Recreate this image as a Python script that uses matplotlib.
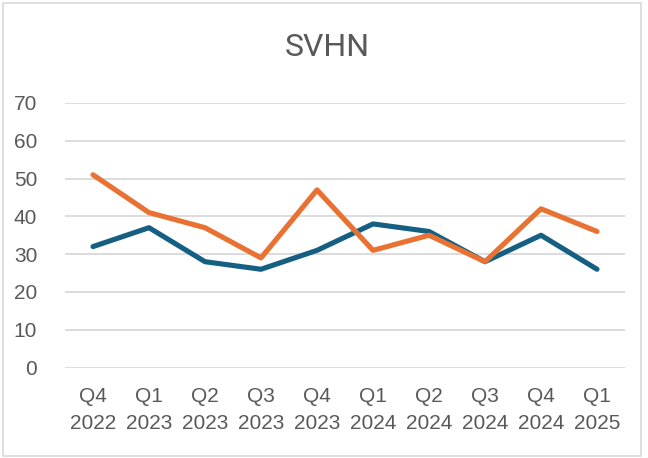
import matplotlib.pyplot as plt
from matplotlib.patches import Rectangle

# quarter labels along the x axis
quarters = ["Q4\n2022", "Q1\n2023", "Q2\n2023", "Q3\n2023", "Q4\n2023",
            "Q1\n2024", "Q2\n2024", "Q3\n2024", "Q4\n2024", "Q1\n2025"]

# the two series
blue_values = [32, 37, 28, 26, 31, 38, 36, 28, 35, 26]
orange_values = [51, 41, 37, 29, 47, 31, 35, 28, 42, 36]

y_ticks = [0, 10, 20, 30, 40, 50, 60, 70]

text_color = "#595959"

fig = plt.figure(figsize=(6.48, 4.58), dpi=100)
ax = fig.add_axes([65 / 648, 1 - 367.5 / 458, 560 / 648, 264.5 / 458])

x = list(range(len(quarters)))
ax.plot(x, blue_values, color="#156082", linewidth=3.7, solid_joinstyle="round",
        solid_capstyle="round", zorder=3)
ax.plot(x, orange_values, color="#E97132", linewidth=3.7, solid_joinstyle="round",
        solid_capstyle="round", zorder=3)

ax.set_xlim(-0.5, len(quarters) - 0.5)
ax.set_ylim(0, 70)
ax.set_yticks(y_ticks)
ax.set_xticks(x)
ax.set_xticklabels(quarters, linespacing=1.55)
ax.grid(axis="y", color="#D9D9D9", linewidth=1.3)
ax.set_axisbelow(True)
for s in ax.spines.values():
    s.set_visible(False)
ax.tick_params(length=0, labelsize=15, labelcolor=text_color)
ax.tick_params(axis="y", pad=20)
ax.tick_params(axis="x", pad=14)
for lbl in ax.get_xticklabels() + ax.get_yticklabels():
    lbl.set_family("Liberation Sans")

fig.text(327 / 648, 1 - 47 / 458, "SVHN", ha="center", va="center",
         fontsize=23, color=text_color, family="Roboto")

# light chart border
fig.patches.append(Rectangle((3 / 648, 2 / 458), 638 / 648, 453 / 458,
                             transform=fig.transFigure, fill=False,
                             edgecolor="#D9D9D9", linewidth=1.2))

fig.savefig("out.png", dpi=100)
